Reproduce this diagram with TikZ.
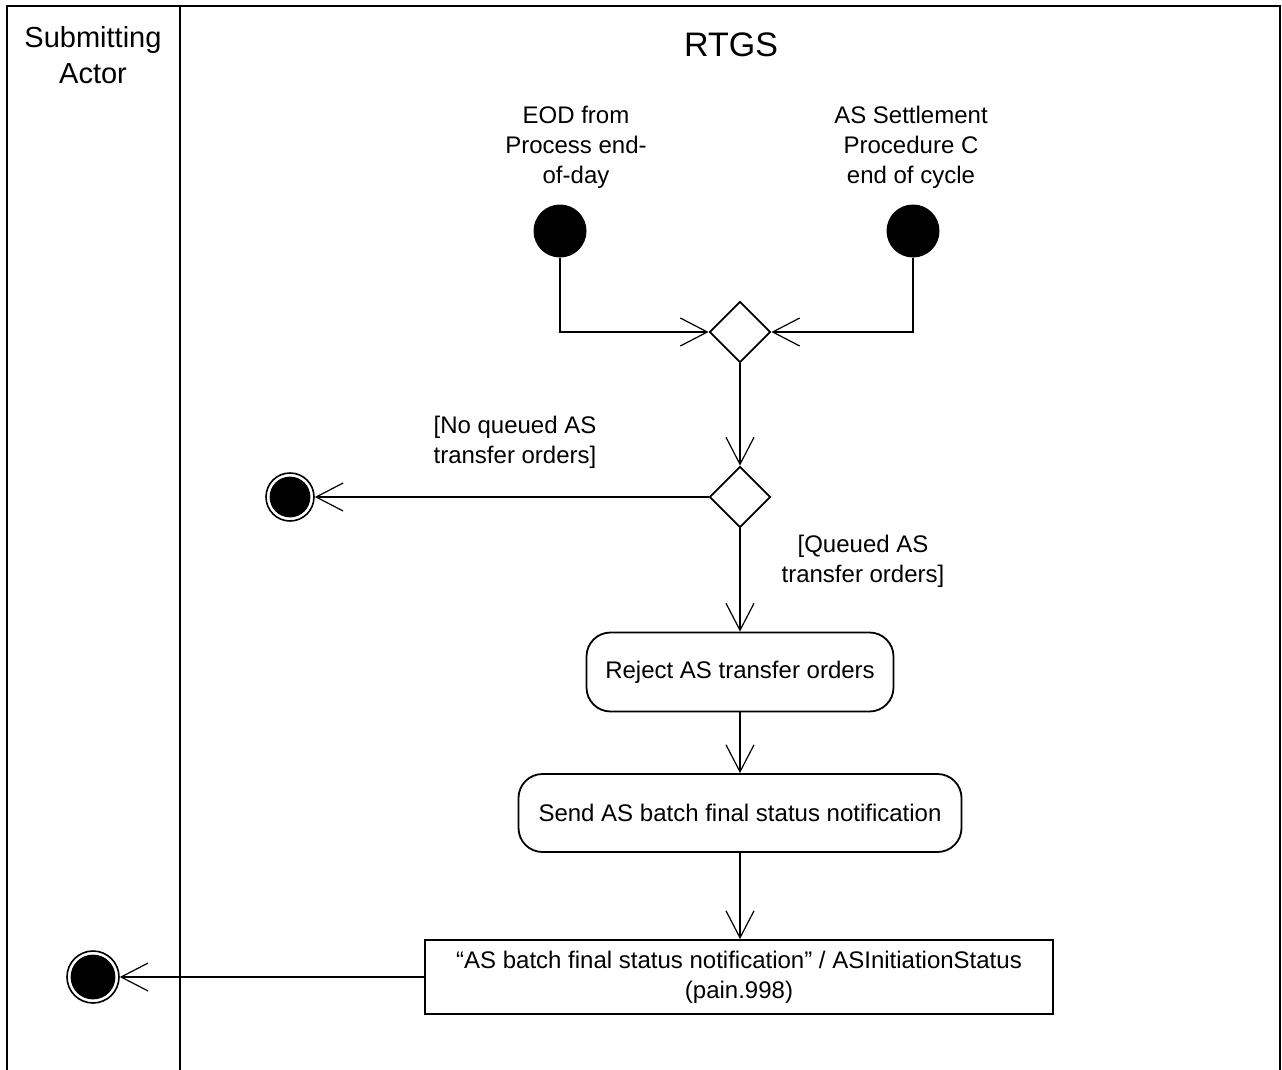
\documentclass[tikz,border=0pt]{standalone}
\usepackage{fontspec}
\setmainfont{Liberation Sans}
\usetikzlibrary{arrows.meta,shapes.geometric}
\begin{document}
\begin{tikzpicture}[x=1pt,y=-1pt,
  lane/.style={line width=2.4pt},
  body/.style={font=\fontsize{24}{30}\selectfont, align=center, inner sep=0pt},
  initnode/.style={circle, fill=black, minimum size=53pt, inner sep=0pt},
  finalnode/.style={circle, draw, line width=1.6pt, minimum size=#1, inner sep=0pt,
     path picture={\fill (path picture bounding box.center) circle ({#1/2-3.6pt});}},
  decision/.style={diamond, draw, line width=1.8pt, minimum width=61pt, minimum height=61pt, inner sep=0pt, aspect=1},
  action/.style={rectangle, rounded corners=24pt, draw, line width=1.8pt, body},
  objbox/.style={rectangle, draw, line width=1.8pt, body},
  arr/.style={line width=1.2pt, -{Straight Barb[length=27pt,width=28pt,line width=1.2pt]}},
  conn/.style={line width=1.2pt}
]
\useasboundingbox (0,0) rectangle (1282,1070);
% swimlanes
\draw[lane] (7,1072) -- (7,6) -- (1280,6) -- (1280,1072);
\draw[lane] (180,6) -- (180,1072);
\node[font=\fontsize{29}{36}\selectfont, align=center, inner sep=0pt] (hsa) at (93,55) {Submitting\\Actor};
\node[font=\fontsize{34}{40}\selectfont, inner sep=0pt] (hrtgs) at (731,45) {RTGS};

% initial nodes
\node[body] (t1) at (576,147) {EOD from\\Process end-\\of-day};
\node[body] (t2) at (911,147) {AS Settlement\\Procedure C\\end of cycle};
\node[initnode] (i1) at (560,231) {};
\node[initnode] (i2) at (913,231) {};

% decisions
\node[decision] (d1) at (740,332) {};
\node[decision] (d2) at (740,497) {};

% final nodes
\node[finalnode=48pt] (f1) at (290,497) {};
\node[finalnode=52pt] (f2) at (93,977) {};

% actions
\node[action, minimum width=307pt, minimum height=79pt] (a1) at (740,672) {Reject AS transfer orders};
\node[action, minimum width=443pt, minimum height=78pt] (a2) at (740,813) {Send AS batch final status notification};
\node[objbox, minimum width=628pt, minimum height=74pt] (o1) at (739,977) {“AS batch final status notification” / ASInitiationStatus\\(pain.998)};

% guards
\node[body] (g1) at (515,442) {[No queued AS\\transfer orders]};
\node[body] (g2) at (863,561) {[Queued AS\\transfer orders]};

% connectors
\draw[arr] (i1.south) |- (d1.west);
\draw[arr] (i2.south) |- (d1.east);
\draw[arr] (d1.south) -- (d2.north);
\draw[arr] (d2.west) -- (f1.east);
\draw[arr] (d2.south) -- (a1.north);
\draw[arr] (a1.south) -- (a2.north);
\draw[arr] (a2.south) -- (a2.south |- o1.north);
\draw[arr] (o1.west) -- (f2.east);
\end{tikzpicture}
\end{document}
